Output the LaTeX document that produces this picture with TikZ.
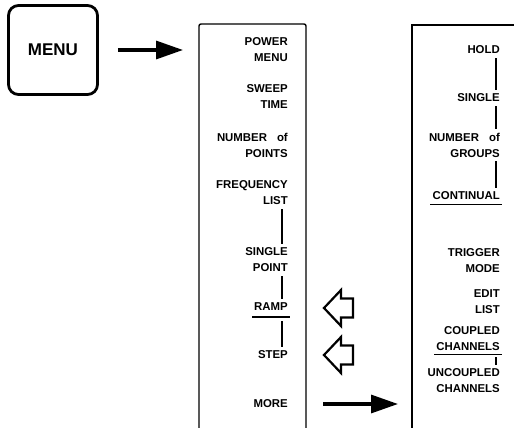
\documentclass[tikz,border=0pt]{standalone}
\usepackage{fontspec}
\setmainfont{Liberation Sans}
\usetikzlibrary{positioning, arrows.meta, calc}

\begin{document}
\begin{tikzpicture}[
    x=1pt, y=-1pt,
    item/.style={anchor=east, align=right, inner sep=1pt, font=\fontsize{11.4}{16}\selectfont\bfseries},
    key/.style={draw, line width=2.8pt, rounded corners=10pt, minimum size=89pt, font=\fontsize{17}{20}\selectfont\bfseries},
    panel/.style={line width=1.4pt},
    link/.style={line width=1.2pt, shorten <=3pt, shorten >=3pt},
    uline/.style={line width=1.4pt},
    bigarrow/.style={-{Triangle[length=27pt, width=18pt]}, line width=3.2pt},
    pointer/.pic={\draw[line width=2.2pt, line join=miter] (0,0) -- (17,-18) -- (17,-9.5) -- (29,-9.5) -- (29,9.5) -- (17,9.5) -- (17,18) -- cycle;}
]
\useasboundingbox (0,0) rectangle (514,428);

% key and the two softkey panels
\node[key] (menu) at (53,50) {MENU};
\draw[panel, rounded corners=2pt] (199,428) -- (199,24) -- (306,24) -- (306,428);
\draw[panel] (412,428) -- (412,25) -- (514,25);
\coordinate (panelL) at (199,50);
\coordinate (panelR) at (412,404);

% first menu
\node[item] (power) at (289,49.5) {POWER\\MENU};
\node[item] (sweep) at (289,97) {SWEEP\\TIME};
\node[item] (npoints) at (289,145) {NUMBER\hspace{10pt}of\\POINTS};
\node[item] (freq) at (289,193) {FREQUENCY\\LIST};
\node[item] (spoint) at (289,260) {SINGLE\\POINT};
\node[item] (ramp) at (289,307) {RAMP};
\node[item] (step) at (289,355) {STEP};
\node[item] (more) at (289,404) {MORE};

\draw[link] ($(freq.south east)+(-7,0)$) -- ($(spoint.north east)+(-7,0)$);
\draw[link] ($(spoint.south east)+(-7,0)$) -- ($(ramp.north east)+(-7,0)$);
\draw[uline] ($(ramp.south west)+(-1,5)$) -- ($(ramp.south east)+(1,5)$);
\draw[link, shorten <=9pt] ($(ramp.south east)+(-7,0)$) -- ($(step.north east)+(-7,0)$);

\pic at ($(ramp.east)+(35,1)$) {pointer};
\pic at ($(step.east)+(35,0)$) {pointer};

% second menu
\node[item] (hold) at (501,50) {HOLD};
\node[item] (single) at (501,98) {SINGLE};
\node[item] (ngroups) at (501,145) {NUMBER\hspace{10pt}of\\GROUPS};
\node[item] (cont) at (501,196) {CONTINUAL};
\node[item] (trig) at (501,261) {TRIGGER\\MODE};
\node[item] (edit) at (501,302) {EDIT\\LIST};
\node[item] (cpl) at (501,339) {COUPLED\\CHANNELS};
\node[item] (ucpl) at (501,381) {UNCOUPLED\\CHANNELS};

\draw[link] ($(hold.south east)+(-5,0)$) -- ($(single.north east)+(-5,0)$);
\draw[link] ($(single.south east)+(-5,0)$) -- ($(ngroups.north east)+(-5,0)$);
\draw[link] ($(ngroups.south east)+(-5,0)$) -- ($(cont.north east)+(-5,0)$);
\draw[uline] ($(cont.south west)+(-1,3)$) -- ($(cont.south east)+(1,3)$);
\draw[uline] ($(cpl.south west)+(-1,2)$) -- ($(cpl.south east)+(1,2)$);
\draw[link, shorten <=5pt] ($(cpl.south east)+(-5,0)$) -- ($(ucpl.north east)+(-5,0)$);

% arrows
\draw[bigarrow, shorten <=19pt, shorten >=16pt] (menu.east) -- (panelL);
\draw[bigarrow, shorten <=34pt, shorten >=14pt] (more.east) -- (panelR);

\end{tikzpicture}
\end{document}
